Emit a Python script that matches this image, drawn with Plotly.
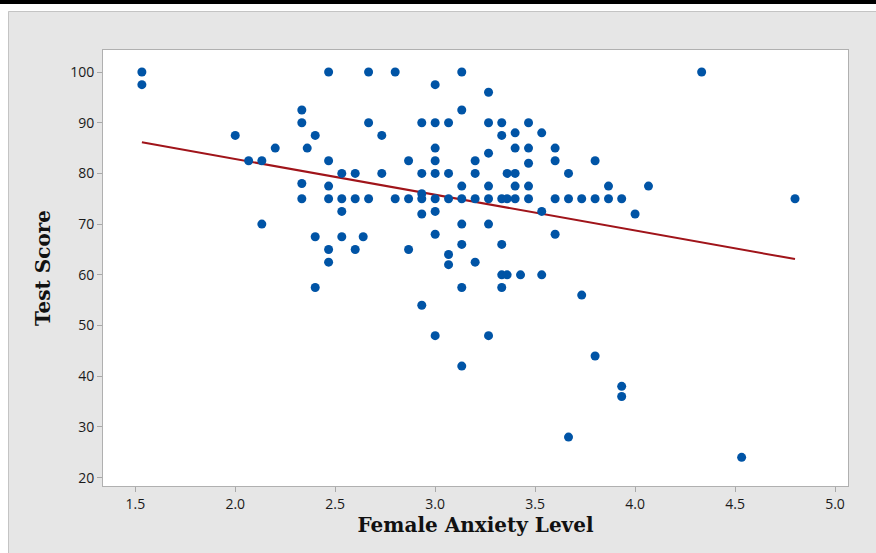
import plotly.graph_objects as go

# ---- data ----
anxiety = (
    [1.533, 1.533, 2.0, 2.067, 2.133, 2.133, 2.2]
    + [2.333] * 4 + [2.36] + [2.4] * 3
    + [2.467] * 6 + [2.533] * 4 + [2.6] * 3 + [2.64]
    + [2.667] * 3 + [2.733] * 2 + [2.8] * 2 + [2.867] * 3
    + [2.933] * 6 + [3.0] * 9 + [3.067] * 5 + [3.133] * 8
    + [3.2] * 4 + [3.267] * 7 + [3.333] * 6 + [3.36] * 3
    + [3.4] * 5 + [3.427] + [3.467] * 5 + [3.533] * 3
    + [3.6] * 4 + [3.667] * 3 + [3.733] * 2 + [3.8] * 3
    + [3.867] * 2 + [3.933] * 3 + [4.0, 4.067, 4.333, 4.533, 4.8]
)
score = (
    [100, 97.5, 87.5, 82.5, 82.5, 70, 85]
    + [92.5, 90, 78, 75] + [85] + [87.5, 67.5, 57.5]
    + [100, 82.5, 77.5, 75, 65, 62.5] + [80, 75, 72.5, 67.5] + [80, 75, 65] + [67.5]
    + [100, 90, 75] + [87.5, 80] + [100, 75] + [82.5, 75, 65]
    + [90, 80, 76, 75, 72, 54] + [97.5, 90, 85, 82.5, 80, 75, 72.5, 68, 48]
    + [90, 80, 75, 64, 62] + [100, 92.5, 77.5, 75, 70, 66, 57.5, 42]
    + [82.5, 80, 75, 62.5] + [96, 90, 84, 77.5, 75, 70, 48]
    + [90, 87.5, 75, 66, 60, 57.5] + [80, 75, 60]
    + [88, 85, 80, 77.5, 75] + [60] + [90, 85, 82, 77.5, 75] + [88, 72.5, 60]
    + [85, 82.5, 75, 68] + [80, 75, 28] + [75, 56] + [82.5, 75, 44]
    + [77.5, 75] + [75, 38, 36] + [72, 77.5, 100, 24, 75]
)

# fitted regression line
fit_intercept = 96.93
fit_slope = -7.046
fit_x = [min(anxiety), max(anxiety)]
fit_y = [fit_intercept + fit_slope * v for v in fit_x]

x_ticks = [1.5, 2.0, 2.5, 3.0, 3.5, 4.0, 4.5, 5.0]
x_tick_labels = ["1.5", "2.0", "2.5", "3.0", "3.5", "4.0", "4.5", "5.0"]
y_ticks = [20, 30, 40, 50, 60, 70, 80, 90, 100]

x_title = "Female Anxiety Level"
y_title = "Test Score"

# ---- figure ----
fig = go.Figure()
fig.add_trace(go.Scatter(
    x=fit_x, y=fit_y, mode="lines",
    line=dict(color="#A0141A", width=2), hoverinfo="skip", showlegend=False,
))
fig.add_trace(go.Scatter(
    x=anxiety, y=score, mode="markers",
    marker=dict(color="#0054A6", size=9, line=dict(width=0)),
    showlegend=False,
))

tick_font = dict(family="Open Sans, Noto Sans, sans-serif", size=14, color="#1a1a1a")
title_font = dict(family="DejaVu Serif, serif", size=20, color="#111111")

fig.update_xaxes(
    range=[1.3385, 5.065], tickvals=x_ticks, ticktext=x_tick_labels,
    showgrid=False, zeroline=False,
    showline=True, mirror=True, linecolor="#b0b0b0", linewidth=1,
    ticks="outside", ticklen=5, tickcolor="#a8a8a8",
    tickfont=tick_font,
    title=dict(text="<b>" + x_title + "</b>", font=title_font, standoff=6),
)
fig.update_yaxes(
    range=[18.35, 104.34], tickvals=y_ticks,
    showgrid=False, zeroline=False,
    showline=True, mirror=True, linecolor="#b0b0b0", linewidth=1,
    ticks="outside", ticklen=5, tickcolor="#a8a8a8",
    tickfont=tick_font,
    title=dict(text="<b>" + y_title + "</b>", font=title_font, standoff=14),
)

W, H = 876, 553
L, R, T, B = 103, 28, 50, 67
pw, ph = W - L - R, H - T - B


def px_x(p):
    return (p - L) / pw


def px_y(p):
    return (H - B - p) / ph


shapes = [
    # white strip to the left of the gray panel
    dict(type="rect", xref="paper", yref="paper", x0=px_x(-5), x1=px_x(8), y0=px_y(H + 5), y1=px_y(-5),
         fillcolor="white", line=dict(width=0), layer="above"),
    # white strip above the gray panel
    dict(type="rect", xref="paper", yref="paper", x0=px_x(-5), x1=px_x(W + 5), y0=px_y(11), y1=px_y(-5),
         fillcolor="white", line=dict(width=0), layer="above"),
    # black rule at the very top
    dict(type="rect", xref="paper", yref="paper", x0=px_x(-5), x1=px_x(W + 5), y0=px_y(4), y1=px_y(-5),
         fillcolor="black", line=dict(width=0), layer="above"),
    # panel border
    dict(type="line", xref="paper", yref="paper", x0=px_x(8.5), x1=px_x(W + 5), y0=px_y(11.5), y1=px_y(11.5),
         line=dict(color="#c4c4c4", width=1), layer="above"),
    dict(type="line", xref="paper", yref="paper", x0=px_x(8.5), x1=px_x(8.5), y0=px_y(11.5), y1=px_y(H + 5),
         line=dict(color="#c4c4c4", width=1), layer="above"),
]

fig.update_layout(
    width=W, height=H,
    margin=dict(l=L, r=R, t=T, b=B, autoexpand=False),
    paper_bgcolor="#e6e6e6", plot_bgcolor="white",
    shapes=shapes,
)

fig.write_html(
    "out.html",
    config={"displayModeBar": False},
    post_script="document.body.style.margin='0';document.body.style.overflow='hidden';",
)
